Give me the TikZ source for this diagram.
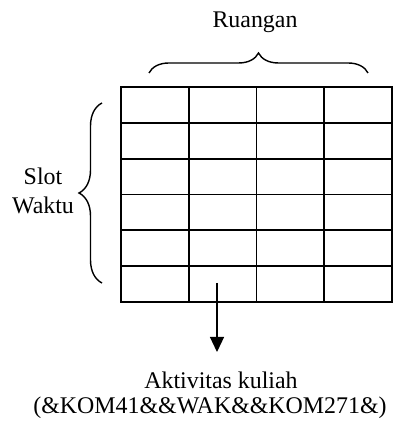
\documentclass[tikz,border=0pt]{standalone}
\usepackage{fontspec}
\setmainfont{Liberation Serif}
\usetikzlibrary{decorations.pathreplacing,arrows.meta}
\begin{document}
\begin{tikzpicture}[garis/.style={line width=1.1pt,line cap=rect},
  kurung/.style={decorate,decoration={brace,amplitude=#1},line width=0.8pt},
  teks/.style={font=\fontsize{13.6}{16.5}\selectfont,inner sep=0pt,align=center}]

\useasboundingbox (0,0) rectangle (8.18,8.44);

\foreach \i in {0,...,4} \draw[garis] (2.42+1.355*\i,2.40) -- (2.42+1.355*\i,6.70);
\foreach \j in {0,...,6} \draw[garis] (2.42,2.40+0.7167*\j) -- (7.84,2.40+0.7167*\j);

\draw[kurung=0.4cm] (2.98,6.98) -- (7.36,6.98);
\draw[kurung=0.46cm] (2.04,2.78) -- (2.04,6.38);

\node[teks,anchor=base] (ruangan) at (5.10,7.88) {Ruangan};
\node[teks] (slot) at (0.86,4.62) {Slot\\Waktu};
\node[teks,anchor=base] (aktivitas) at (4.42,0.66) {Aktivitas kuliah};
\node[teks,anchor=base] (kode) at (4.20,0.18) {(\&KOM41\&\&WAK\&\&KOM271\&)};

\coordinate (mulai) at (4.34,2.78);
\coordinate (ujung) at (4.34,1.40);
\draw[line width=0.7pt,-{Triangle[width=0.28cm,length=0.3cm]}] (mulai) -- (ujung);

\end{tikzpicture}
\end{document}
